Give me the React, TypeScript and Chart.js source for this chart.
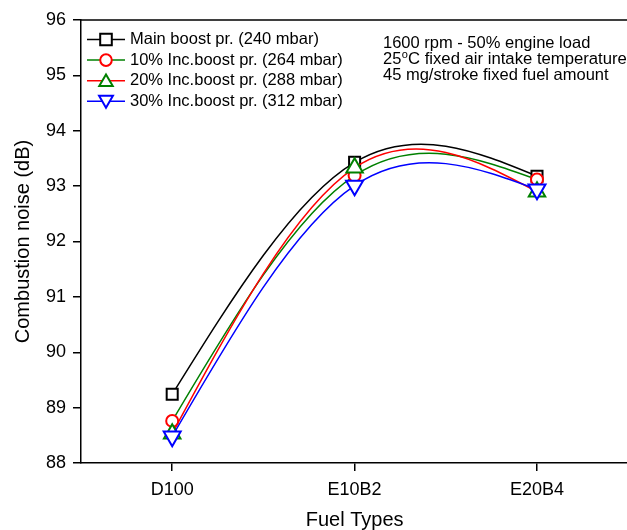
import React, { useEffect, useRef } from 'react';
import { Chart, registerables } from 'chart.js';

Chart.register(...registerables);

const categories = ['D100', 'E10B2', 'E20B4'];
const mainBoost = [89.24, 93.43, 93.18];
const inc10 = [88.76, 93.19, 93.12];
const inc20 = [88.53, 93.33, 92.9];
const inc30 = [88.48, 93.01, 92.94];
const seriesLabels = [
  'Main boost pr. (240 mbar)',
  '10% Inc.boost pr. (264 mbar)',
  '20% Inc.boost pr. (288 mbar)',
  '30% Inc.boost pr. (312 mbar)',
];
const yMin = 88;
const yMax = 96;
const yStep = 1;
const xTitle = 'Fuel Types';
const yTitle = 'Combustion noise (dB)';
const noteLine1 = '1600 rpm - 50% engine load';
const noteLine2a = '25';
const noteLine2sup = 'o';
const noteLine2b = 'C fixed air intake temperature';
const noteLine3 = '45 mg/stroke fixed fuel amount';

const FONT = '"Liberation Sans", Arial, Helvetica, sans-serif';

type Sty = { line: string; marker: string; shape: string; rot: number; r: number; lr: number };
const styles: Sty[] = [
  { line: '#000000', marker: '#000000', shape: 'rect', rot: 0, r: 7.8, lr: 8.2 },
  { line: '#008000', marker: '#ff0000', shape: 'circle', rot: 0, r: 6, lr: 5.8 },
  { line: '#ff0000', marker: '#008000', shape: 'triangle', rot: 0, r: 9.5, lr: 7.8 },
  { line: '#0000ff', marker: '#0000ff', shape: 'triangle', rot: 180, r: 9.8, lr: 8 },
];

function drawMarker(ctx: CanvasRenderingContext2D, s: Sty, x: number, y: number, r: number) {
  ctx.save();
  ctx.beginPath();
  if (s.shape === 'rect') {
    const h = Math.SQRT1_2 * r;
    ctx.rect(x - h, y - h, 2 * h, 2 * h);
  } else if (s.shape === 'circle') {
    ctx.arc(x, y, r, 0, Math.PI * 2);
  } else {
    let a = (s.rot * Math.PI) / 180;
    ctx.moveTo(x + Math.sin(a) * r, y - Math.cos(a) * r);
    a += (2 * Math.PI) / 3;
    ctx.lineTo(x + Math.sin(a) * r, y - Math.cos(a) * r);
    a += (2 * Math.PI) / 3;
    ctx.lineTo(x + Math.sin(a) * r, y - Math.cos(a) * r);
    ctx.closePath();
  }
  ctx.fillStyle = '#ffffff';
  ctx.fill();
  ctx.lineWidth = 2;
  ctx.strokeStyle = s.marker;
  ctx.stroke();
  ctx.restore();
}

// Natural cubic spline control points, computed from the points Chart.js placed on its scales
function applyNaturalSpline(points: any[]) {
  const n = points.length;
  if (n < 2) return;
  const xs = points.map((p) => p.x);
  const ys = points.map((p) => p.y);
  const h: number[] = [];
  for (let i = 0; i < n - 1; i++) h.push(xs[i + 1] - xs[i]);
  // second derivatives M (natural: M0 = Mn-1 = 0), tridiagonal solve
  const M = new Array(n).fill(0);
  if (n > 2) {
    const a: number[] = [], b: number[] = [], c: number[] = [], d: number[] = [];
    for (let i = 1; i < n - 1; i++) {
      a.push(h[i - 1]);
      b.push(2 * (h[i - 1] + h[i]));
      c.push(h[i]);
      d.push(6 * ((ys[i + 1] - ys[i]) / h[i] - (ys[i] - ys[i - 1]) / h[i - 1]));
    }
    const m = b.length;
    for (let i = 1; i < m; i++) {
      const w = a[i] / b[i - 1];
      b[i] -= w * c[i - 1];
      d[i] -= w * d[i - 1];
    }
    const sol = new Array(m).fill(0);
    sol[m - 1] = d[m - 1] / b[m - 1];
    for (let i = m - 2; i >= 0; i--) sol[i] = (d[i] - c[i] * sol[i + 1]) / b[i];
    for (let i = 0; i < m; i++) M[i + 1] = sol[i];
  }
  const D = new Array(n).fill(0);
  for (let i = 0; i < n - 1; i++) {
    D[i] = (ys[i + 1] - ys[i]) / h[i] - (h[i] * (2 * M[i] + M[i + 1])) / 6;
  }
  D[n - 1] = (ys[n - 1] - ys[n - 2]) / h[n - 2] + (h[n - 2] * (M[n - 2] + 2 * M[n - 1])) / 6;
  for (let i = 0; i < n; i++) {
    const p = points[i];
    const hp = i > 0 ? h[i - 1] : h[0];
    const hn = i < n - 1 ? h[i] : h[n - 2];
    p.cp1x = xs[i] - hp / 3;
    p.cp1y = ys[i] - (D[i] * hp) / 3;
    p.cp2x = xs[i] + hn / 3;
    p.cp2y = ys[i] + (D[i] * hn) / 3;
  }
}

const splinePlugin = {
  id: 'naturalSpline',
  beforeDatasetsDraw(chart: any) {
    chart.data.datasets.forEach((_: any, i: number) => {
      const meta = chart.getDatasetMeta(i);
      const line = meta.dataset;
      if (!line) return;
      if (line.updateControlPoints) line.updateControlPoints(chart.chartArea, 'x');
      applyNaturalSpline(meta.data);
      line._path = undefined;
    });
  },
};

const decorPlugin = {
  id: 'decor',
  afterDraw(chart: any) {
    const ctx: CanvasRenderingContext2D = chart.ctx;
    const a = chart.chartArea;
    ctx.save();
    ctx.strokeStyle = '#000';
    ctx.lineWidth = 1.5;
    ctx.beginPath();
    ctx.moveTo(a.left, a.top);
    ctx.lineTo(a.right, a.top);
    ctx.lineTo(a.right, a.bottom);
    ctx.stroke();

    // legend
    const lx0 = a.left + 6;
    const lx1 = a.left + 44;
    const mx = a.left + 25;
    const tx = a.left + 49;
    const rowY0 = a.top + 19.5;
    const rowH = 20.6;
    ctx.font = `16.5px ${FONT}`;
    ctx.textBaseline = 'middle';
    ctx.textAlign = 'left';
    seriesLabels.forEach((lab, i) => {
      const y = rowY0 + i * rowH;
      const s = styles[i];
      ctx.strokeStyle = s.line;
      ctx.lineWidth = 1.5;
      ctx.beginPath();
      ctx.moveTo(lx0, y);
      ctx.lineTo(lx1, y);
      ctx.stroke();
      drawMarker(ctx, s, mx, y + (s.shape === 'triangle' ? (s.rot ? -1.5 : 1.5) : 0), s.lr);
      ctx.fillStyle = '#000';
      ctx.fillText(lab, tx, y);
    });

    // notes
    const nx = 383;
    ctx.fillStyle = '#000';
    ctx.font = `16.5px ${FONT}`;
    ctx.fillText(noteLine1, nx, a.top + 23);
    const y2 = a.top + 39.5;
    ctx.fillText(noteLine2a, nx, y2);
    const w = ctx.measureText(noteLine2a).width;
    ctx.font = `11px ${FONT}`;
    ctx.fillText(noteLine2sup, nx + w + 0.5, y2 - 5);
    const ws = ctx.measureText(noteLine2sup).width;
    ctx.font = `16.7px ${FONT}`;
    ctx.fillText(noteLine2b, nx + w + ws + 0.5, y2);
    ctx.font = `16.5px ${FONT}`;
    ctx.fillText(noteLine3, nx, a.top + 55.5);
    ctx.restore();
  },
};

export default function App() {
  const ref = useRef<HTMLCanvasElement | null>(null);
  useEffect(() => {
    if (!ref.current) return;
    const all = [mainBoost, inc10, inc20, inc30];
    const chart = new Chart(ref.current, {
      type: 'line',
      data: {
        labels: categories,
        datasets: all.map((d, i) => ({
          label: seriesLabels[i],
          data: d,
          borderColor: styles[i].line,
          borderWidth: 1.5,
          tension: 0.4,
          capBezierPoints: false,
          pointStyle: styles[i].shape as any,
          pointRotation: styles[i].rot,
          pointRadius: styles[i].r,
          pointBorderColor: styles[i].marker,
          pointBackgroundColor: '#ffffff',
          pointBorderWidth: 2,
          fill: false,
          order: 3 - i,
          clip: false as any,
        })),
      },
      options: {
        responsive: false,
        animation: false,
        devicePixelRatio: 1,
        layout: { padding: { left: 0, top: 20, right: 9, bottom: 0 } },
        plugins: { legend: { display: false }, tooltip: { enabled: false } },
        scales: {
          x: {
            type: 'category',
            offset: true,
            grid: {
              display: true,
              offset: false,
              drawOnChartArea: false,
              drawTicks: true,
              tickLength: 8,
              color: '#000',
              lineWidth: 1.5,
            },
            border: { display: true, color: '#000', width: 1.5 },
            ticks: { color: '#000', font: { family: FONT, size: 18 }, padding: 8, maxRotation: 0 },
            title: {
              display: true,
              text: xTitle,
              color: '#000',
              font: { family: FONT, size: 20, lineHeight: 1 },
              padding: { top: 0, bottom: 0 },
            },
            afterFit: (s: any) => {
              s.height = 67;
            },
          },
          y: {
            type: 'linear',
            min: yMin,
            max: yMax,
            grid: {
              display: true,
              drawOnChartArea: false,
              drawTicks: true,
              tickLength: 8,
              color: '#000',
              lineWidth: 1.5,
            },
            border: { display: true, color: '#000', width: 1.5 },
            ticks: { stepSize: yStep, color: '#000', font: { family: FONT, size: 18 }, padding: 7 },
            title: {
              display: true,
              text: yTitle,
              color: '#000',
              font: { family: FONT, size: 20, lineHeight: 1 },
              padding: { top: 13, bottom: 0 },
            },
            afterFit: (s: any) => {
              s.width = 81;
            },
          },
        },
      },
      plugins: [splinePlugin, decorPlugin],
    });
    return () => chart.destroy();
  }, []);
  return (
    <div
      style={{
        position: 'fixed',
        left: 0,
        top: 0,
        width: 627,
        height: 530,
        overflow: 'hidden',
        background: '#fff',
      }}
    >
      <canvas ref={ref} width={640} height={530} style={{ display: 'block', width: 640, height: 530 }} />
    </div>
  );
}
